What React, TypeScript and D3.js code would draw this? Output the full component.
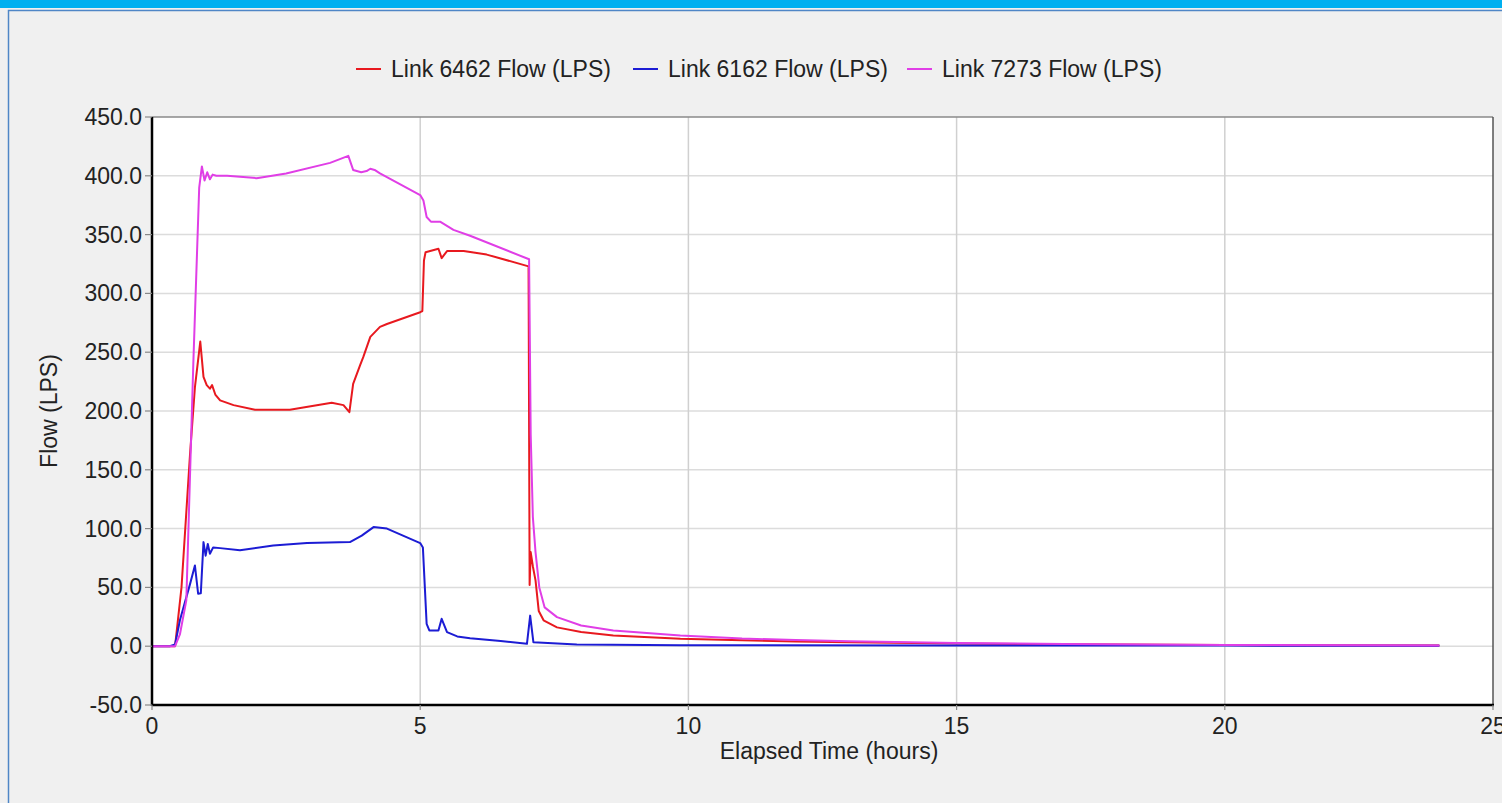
import React, { useEffect } from "react";
import * as d3 from "d3";

// ---- data ----
const xTicks = [0, 5, 10, 15, 20, 25];
const yTicks = [-50, 0, 50, 100, 150, 200, 250, 300, 350, 400, 450];

const redHours = [0, 0.43, 0.55, 0.71, 0.8, 0.9, 0.96, 1.02, 1.08, 1.12, 1.18, 1.27, 1.52, 1.92, 2.57, 3.35, 3.57, 3.68, 3.75, 3.88, 3.94, 4.07, 4.25, 4.38, 5.0, 5.04, 5.07, 5.1, 5.34, 5.4, 5.5, 5.81, 6.24, 7.02, 7.04, 7.06, 7.1, 7.15, 7.21, 7.3, 7.55, 8.0, 8.6, 9.85, 11, 12, 13, 15, 17, 20, 24];
const redFlow = [0, 0, 50, 164, 220, 259, 229, 222, 219, 222, 214, 209, 205, 201, 201, 207, 205, 199, 223, 239, 246, 263, 271.5, 274, 284, 285, 328, 335, 338, 330, 336, 336, 333, 323, 52, 80, 68, 56, 30, 22, 16, 12, 9, 6.3, 5, 4, 3.3, 2.3, 1.6, 1, 0.5];

const blueHours = [0, 0.33, 0.43, 0.52, 0.71, 0.8, 0.86, 0.91, 0.96, 1.0, 1.04, 1.08, 1.14, 1.27, 1.64, 2.26, 2.89, 3.69, 3.91, 4.13, 4.38, 5.0, 5.05, 5.12, 5.17, 5.34, 5.4, 5.5, 5.69, 5.93, 6.5, 6.99, 7.05, 7.11, 7.92, 9.85, 15, 20, 24];
const blueFlow = [0, 0, 1.5, 22, 53, 68.7, 44.6, 45, 88.5, 77, 87, 78.6, 84, 83.4, 81.5, 85.7, 87.7, 88.5, 94, 101.3, 100, 87.7, 84, 19, 13.4, 13.4, 23.3, 12, 8.3, 6.8, 4.5, 2, 26, 3.4, 1.5, 0.8, 0.6, 0.5, 0.3];

const magentaHours = [0, 0.43, 0.52, 0.64, 0.77, 0.88, 0.93, 0.98, 1.03, 1.08, 1.13, 1.2, 1.4, 1.95, 2.5, 3.32, 3.66, 3.75, 3.9, 4.0, 4.07, 4.15, 4.25, 5.0, 5.06, 5.12, 5.2, 5.37, 5.62, 5.93, 7.03, 7.06, 7.1, 7.15, 7.22, 7.32, 7.55, 8.0, 8.6, 9.85, 11, 12, 13, 15, 17, 20, 24];
const magentaFlow = [0, 0, 10, 39, 240, 390, 408, 396, 403, 397, 401, 400, 400, 398, 402, 411, 417, 405, 403, 404, 406, 405, 402, 383.6, 379, 365, 361, 361, 354, 349, 329, 180, 110, 80, 50, 33, 24.7, 17.6, 13.4, 9.1, 6.5, 5.3, 4.3, 2.8, 1.9, 1.1, 0.6];

const seriesNames = ["Link 6462 Flow (LPS)", "Link 6162 Flow (LPS)", "Link 7273 Flow (LPS)"];
const seriesColors = ["#e8191f", "#1c1cd4", "#e03ee6"];

const W = 1502;
const H = 803;
const FONT = "'Liberation Sans', Arial, sans-serif";

const fmtY = (v: number) => d3.format(".1f")(v).replace("\u2212", "-");

export default function App() {
  useEffect(() => {
    document.body.style.margin = "0";
    document.body.style.overflow = "hidden";
  }, []);

  const left = 152, right = 1493, top = 117, bottom = 705;
  const x = d3.scaleLinear().domain([0, 25]).range([left, right]);
  const y = d3.scaleLinear().domain([-50, 450]).range([bottom, top]);

  const line = d3.line<[number, number]>().x((d) => x(d[0])).y((d) => y(d[1]));
  const series = [
    d3.zip(redHours, redFlow) as [number, number][],
    d3.zip(blueHours, blueFlow) as [number, number][],
    d3.zip(magentaHours, magentaFlow) as [number, number][],
  ];

  const legendX = [356, 633, 907];

  return (
    <svg width={W} height={H} style={{ position: "absolute", left: 0, top: 0, display: "block" }} fontFamily={FONT}>
      <rect x={0} y={0} width={W} height={H} fill="#f0f0f0" />
      <rect x={0} y={0} width={W} height={8} fill="#00b0f0" />
      <rect x={8.5} y={10.5} width={W + 20} height={H + 20} fill="#f0f0f0" stroke="#4f86c6" strokeWidth={1.5} />

      {/* plot area */}
      <rect x={left} y={top} width={right - left} height={bottom - top} fill="#ffffff" />

      {/* horizontal grid */}
      {yTicks.filter((t) => t > -50 && t < 450).map((t) => (
        <line key={"gy" + t} x1={left} x2={right} y1={y(t)} y2={y(t)} stroke="#dcdcdc" strokeWidth={1.5} />
      ))}
      {/* vertical grid */}
      {xTicks.filter((t) => t > 0 && t < 25).map((t) => (
        <line key={"gx" + t} x1={x(t)} x2={x(t)} y1={top} y2={bottom} stroke="#d0d0d0" strokeWidth={1.5} />
      ))}

      {/* series */}
      {series.map((s, i) => (
        <path key={"s" + i} d={line(s) || ""} fill="none" stroke={seriesColors[i]} strokeWidth={2} strokeLinejoin="round" />
      ))}

      {/* frame */}
      <line x1={left} x2={right} y1={top} y2={top} stroke="#8a8a8a" strokeWidth={1.5} />
      <line x1={right} x2={right} y1={top} y2={bottom} stroke="#555" strokeWidth={1.5} />
      <line x1={left} x2={right + 1} y1={bottom} y2={bottom} stroke="#000" strokeWidth={2.5} />
      <line x1={left} x2={left} y1={top} y2={bottom + 1} stroke="#000" strokeWidth={2.5} />

      {/* y ticks */}
      {yTicks.map((t) => (
        <g key={"ty" + t}>
          <line x1={left - 7} x2={left} y1={y(t)} y2={y(t)} stroke="#888" strokeWidth={1.2} />
          <text x={left - 10} y={y(t) + 8} textAnchor="end" fontSize={23} fill="#222">
            {fmtY(t)}
          </text>
        </g>
      ))}
      {/* x ticks */}
      {xTicks.map((t) => (
        <g key={"tx" + t}>
          <line x1={x(t)} x2={x(t)} y1={bottom} y2={bottom + 5} stroke="#888" strokeWidth={1.2} />
          <text x={x(t)} y={734} textAnchor="middle" fontSize={23} fill="#222">
            {t}
          </text>
        </g>
      ))}

      {/* axis titles */}
      <text x={829} y={759} textAnchor="middle" fontSize={23} fill="#222">Elapsed Time (hours)</text>
      <text transform={`translate(57, ${(top + bottom) / 2}) rotate(-90)`} textAnchor="middle" fontSize={23} fill="#222">Flow (LPS)</text>

      {/* legend */}
      {seriesNames.map((n, i) => (
        <g key={"lg" + i}>
          <line x1={legendX[i]} x2={legendX[i] + 25} y1={69} y2={69} stroke={seriesColors[i]} strokeWidth={2} />
          <text x={legendX[i] + 35} y={77} fontSize={23} fill="#222">{n}</text>
        </g>
      ))}
    </svg>
  );
}
